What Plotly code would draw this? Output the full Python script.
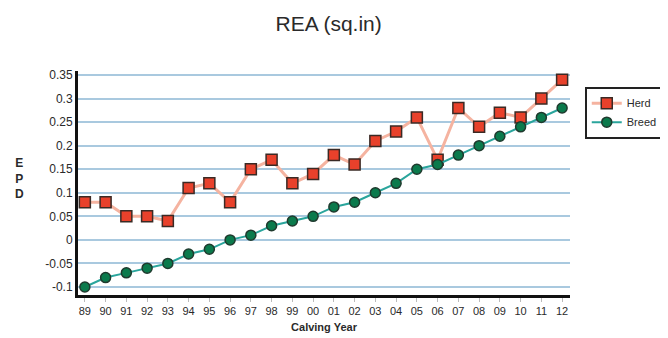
import plotly.graph_objects as go

years = ["89","90","91","92","93","94","95","96","97","98","99","00",
         "01","02","03","04","05","06","07","08","09","10","11","12"]
herd = [0.08,0.08,0.05,0.05,0.04,0.11,0.12,0.08,0.15,0.17,0.12,0.14,
        0.18,0.16,0.21,0.23,0.26,0.17,0.28,0.24,0.27,0.26,0.30,0.34]
breed = [-0.10,-0.08,-0.07,-0.06,-0.05,-0.03,-0.02,0.00,0.01,0.03,0.04,0.05,
         0.07,0.08,0.10,0.12,0.15,0.16,0.18,0.20,0.22,0.24,0.26,0.28]
yticks = [-0.1,-0.05,0,0.05,0.1,0.15,0.2,0.25,0.3,0.35]
ytick_labels = ["-0.1","-0.05","0","0.05","0.1","0.15","0.2","0.25","0.3","0.35"]

xs = list(range(len(years)))

fig = go.Figure()
fig.add_trace(go.Scatter(
    x=xs, y=herd, name="Herd", mode="lines+markers",
    line=dict(color="#f5b3a0", width=3),
    marker=dict(symbol="square", size=11, color="#e8412b",
                line=dict(color="#3a2a25", width=1.5)),
))
fig.add_trace(go.Scatter(
    x=xs, y=breed, name="Breed", mode="lines+markers",
    line=dict(color="#2aa59c", width=2),
    marker=dict(symbol="circle", size=10, color="#0b7a4c",
                line=dict(color="#1f3a2e", width=1.5)),
))

fig.update_layout(
    width=668, height=338,
    margin=dict(l=70, r=101, t=63, b=51),
    paper_bgcolor="white", plot_bgcolor="white",
    font=dict(family="Liberation Sans, Arial, sans-serif", color="#2a2a2a"),
    title=dict(text="REA (sq.in)", x=0.48, xanchor="center", y=0.955, yanchor="middle",
               font=dict(size=21, color="#2a2a2a")),
    showlegend=True,
    legend=dict(x=1.03, y=0.93, xanchor="left", yanchor="top",
                bgcolor="white", bordercolor="#222222", borderwidth=2,
                font=dict(size=11, color="#2a2a2a"), tracegroupgap=0,
                itemwidth=30),
    xaxis=dict(
        tickmode="array", tickvals=xs, ticktext=years,
        range=[-0.33, 23.38], showgrid=False, zeroline=False,
        showline=True, linecolor="#111111", linewidth=3,
        ticks="outside", ticklen=4, tickcolor="#bbbbbb",
        tickfont=dict(size=11, color="#2a2a2a"),
        title=dict(text="<b>Calving Year</b>", font=dict(size=11, color="#2a2a2a"), standoff=8),
    ),
    yaxis=dict(
        tickmode="array", tickvals=yticks, ticktext=ytick_labels,
        range=[-0.117, 0.3585], showgrid=True, gridcolor="#a9c9df", gridwidth=2,
        zeroline=False, showline=True, linecolor="#111111", linewidth=3,
        ticks="", tickfont=dict(size=12, color="#2a2a2a"),
    ),
)
fig.add_annotation(text="<b>E<br>P<br>D</b>", xref="paper", yref="paper",
                   x=-0.118, y=0.52, xanchor="center", yanchor="middle",
                   showarrow=False, font=dict(size=12, color="#2a2a2a"))

fig.write_html("out.html")
